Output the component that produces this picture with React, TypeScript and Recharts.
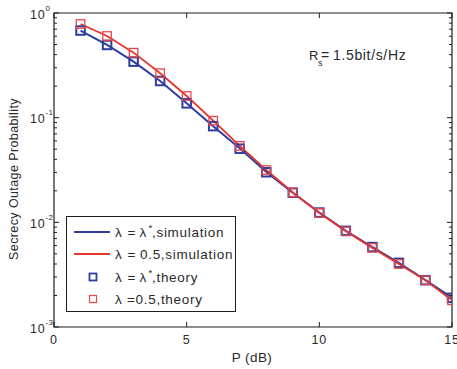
import React from 'react';
import { ComposedChart, Line, XAxis, YAxis, ReferenceArea, Legend, Label } from 'recharts';

const P_DB = [1, 2, 3, 4, 5, 6, 7, 8, 9, 10, 11, 12, 13, 14, 15];
const STAR_SIM = [0.68, 0.495, 0.343, 0.224, 0.137, 0.083, 0.051, 0.0302, 0.0192, 0.0124, 0.0083, 0.0058, 0.0041, 0.0028, 0.0019];
const HALF_SIM = [0.785, 0.603, 0.418, 0.266, 0.161, 0.0936, 0.0537, 0.0316, 0.0193, 0.0123, 0.0082, 0.0057, 0.004, 0.0028, 0.0018];
const STAR_THEORY = [0.68, 0.495, 0.343, 0.224, 0.137, 0.083, 0.0505, 0.0301, 0.0192, 0.0124, 0.0083, 0.0058, 0.0041, 0.0028, 0.0019];
const HALF_THEORY = [0.785, 0.603, 0.418, 0.266, 0.161, 0.0936, 0.0537, 0.0316, 0.0193, 0.0123, 0.0082, 0.0057, 0.004, 0.0028, 0.0018];

const X_TICKS = [0, 5, 10, 15];
const Y_MAJOR = [0.001, 0.01, 0.1, 1];
const Y_MAJOR_EXP = ['-3', '-2', '-1', '0'];
const Y_MINOR_MULT = [2, 3, 4, 5, 6, 7, 8, 9];
const Y_TICKS: number[] = [];
Y_MAJOR.forEach((m, i) => {
  Y_TICKS.push(m);
  if (i < Y_MAJOR.length - 1) Y_MINOR_MULT.forEach((k) => Y_TICKS.push(m * k));
});

const data = P_DB.map((p, i) => ({
  p,
  starSim: STAR_SIM[i],
  halfSim: HALF_SIM[i],
  starTh: STAR_THEORY[i],
  halfTh: HALF_THEORY[i],
}));

const BLUE = '#2d3e9e';
const RED = '#e8352c';
const RED_SQ = '#e8474a';
const AXIS = '#1e1e1e';
const TXT = '#2a2a2a';
const FONT = '"Liberation Sans", Arial, Helvetica, sans-serif';

const W = 457;
const H = 369;
const M_TOP = 13;
const M_RIGHT = 5;
const PLOT_RIGHT = W - M_RIGHT;
const PLOT_TOP = M_TOP;

const XTick = (props: any) => {
  const { x, y, payload } = props;
  return (
    <g>
      <line x1={x} x2={x} y1={y} y2={y - 5} stroke={AXIS} strokeWidth={1} />
      <line x1={x} x2={x} y1={PLOT_TOP} y2={PLOT_TOP + 5} stroke={AXIS} strokeWidth={1} />
      <text x={x} y={y + 16.5} textAnchor="middle" fontSize={12.5} letterSpacing={0.8} fill={TXT} fontFamily={FONT}>
        {String(payload.value)}
      </text>
    </g>
  );
};

const YTick = (props: any) => {
  const { x, y, payload } = props;
  const v = payload.value as number;
  const mi = Y_MAJOR.findIndex((m) => Math.abs(m - v) / m < 1e-6);
  const major = mi >= 0;
  const len = major ? 5 : 3;
  return (
    <g>
      <line x1={x} x2={x + len} y1={y} y2={y} stroke={AXIS} strokeWidth={1} />
      <line x1={PLOT_RIGHT} x2={PLOT_RIGHT - len} y1={y} y2={y} stroke={AXIS} strokeWidth={1} />
      {major && (
        <text x={x - 24} y={y + 5.5} fontSize={12.5} letterSpacing={0.8} fill={TXT} fontFamily={FONT}>
          10
          <tspan dy={-8} fontSize={8} letterSpacing={0.3}>{Y_MAJOR_EXP[mi]}</tspan>
        </text>
      )}
    </g>
  );
};

const makeSquare = (color: string, sw: number, size: number) => (props: any) => {
  const { cx, cy, index } = props;
  if (cx == null || cy == null || isNaN(cx) || isNaN(cy)) return <g key={`e${index}`} />;
  return (
    <rect key={`s${index}`} x={cx - size / 2} y={cy - size / 2} width={size} height={size}
      fill="none" stroke={color} strokeWidth={sw} />
  );
};

const XLabel = (props: any) => {
  const vb = props.viewBox || {};
  return (
    <text x={vb.x + vb.width / 2 - 1} y={vb.y + 35} textAnchor="middle" fontSize={13.5} letterSpacing={0.4}
      fill={TXT} fontFamily={FONT}>
      P (dB)
    </text>
  );
};

const YLabel = (props: any) => {
  const vb = props.viewBox || {};
  const cx = 18;
  const cy = vb.y + vb.height / 2 + 9;
  return (
    <text x={cx} y={cy} transform={`rotate(-90 ${cx} ${cy})`} textAnchor="middle" fontSize={12.5}
      letterSpacing={0.4} fill={TXT} fontFamily={FONT}>
      Secrecy Outage Probability
    </text>
  );
};

type LegendRow = { kind: 'line' | 'square'; color: string; parts: { t: string; x: number; sup?: boolean }[] };
const LEGEND_ROWS: LegendRow[] = [
  { kind: 'line', color: BLUE, parts: [{ t: 'λ', x: 49 }, { t: '=', x: 61.5 }, { t: 'λ', x: 73.5 }, { t: '*', x: 82.5, sup: true }, { t: ',simulation', x: 86 }] },
  { kind: 'line', color: RED, parts: [{ t: 'λ', x: 49 }, { t: '=', x: 61.5 }, { t: '0.5,simulation', x: 74 }] },
  { kind: 'square', color: BLUE, parts: [{ t: 'λ', x: 49 }, { t: '=', x: 61.5 }, { t: 'λ', x: 73.5 }, { t: '*', x: 82.5, sup: true }, { t: ',theory', x: 86 }] },
  { kind: 'square', color: RED_SQ, parts: [{ t: 'λ', x: 49 }, { t: '=0.5,theory', x: 61 }] },
];
const LEG_ROW_Y = [16, 38, 61, 83];

const LegendBox = () => (
  <svg width={171} height={96} style={{ display: 'block' }}>
    <rect x={0.5} y={0.5} width={169} height={95} fill="#fff" stroke={AXIS} strokeWidth={1} />
    {LEGEND_ROWS.map((r, i) => {
      const cy = LEG_ROW_Y[i];
      return (
        <g key={i}>
          {r.kind === 'line' ? (
            <line x1={8} x2={44} y1={cy} y2={cy} stroke={r.color} strokeWidth={1.8} />
          ) : (
            <rect x={23.5} y={cy - 3.5} width={7} height={7} fill="none" stroke={r.color}
              strokeWidth={r.color === BLUE ? 1.8 : 1.2} />
          )}
          {r.parts.map((p, j) => (
            <text key={j} x={p.x} y={p.sup ? cy - 1.5 : cy + 5} fontSize={p.sup ? 9.5 : 13.5}
              letterSpacing={0.7} fill={TXT} fontFamily={FONT}>
              {p.t}
            </text>
          ))}
        </g>
      );
    })}
  </svg>
);

export default function App() {
  return (
    <div style={{ position: 'absolute', left: 0, top: 0, width: W, height: H, background: '#fff' }}>
      <ComposedChart width={W} height={H} data={data} margin={{ top: M_TOP, right: M_RIGHT, bottom: 0, left: 0 }}>
        <XAxis dataKey="p" type="number" domain={[0, 15]} ticks={X_TICKS} interval={0} tickSize={0} tickMargin={0}
          axisLine={false} tickLine={false} tick={<XTick />} height={42} allowDataOverflow>
          <Label content={<XLabel />} />
        </XAxis>
        <YAxis type="number" scale="log" domain={[0.001, 1]} ticks={Y_TICKS} interval={0} tickSize={0} tickMargin={0}
          axisLine={false} tickLine={false} tick={<YTick />} width={54} allowDataOverflow>
          <Label content={<YLabel />} />
        </YAxis>
        <ReferenceArea x1={0} x2={15} y1={0.001} y2={1} fill="none" stroke={AXIS} strokeWidth={1.2} ifOverflow="visible" />
        <Line dataKey="starSim" stroke={BLUE} strokeWidth={2} dot={false} activeDot={false} isAnimationActive={false} />
        <Line dataKey="halfSim" stroke={RED} strokeWidth={1.8} dot={false} activeDot={false} isAnimationActive={false} />
        <Line dataKey="starTh" stroke="none" dot={makeSquare(BLUE, 2, 8.5)} activeDot={false} isAnimationActive={false} />
        <Line dataKey="halfTh" stroke="none" dot={makeSquare(RED_SQ, 1.3, 8.5)} activeDot={false} isAnimationActive={false} />
        <Legend layout="vertical" align="center" verticalAlign="middle"
          wrapperStyle={{ position: 'absolute', left: 66, top: 216, width: 171, height: 96, margin: 0, padding: 0 }}
          content={() => <LegendBox />} />
      </ComposedChart>
      <svg width={W} height={H} style={{ position: 'absolute', left: 0, top: 0, pointerEvents: 'none' }}>
        <text x={309} y={60} fontSize={13} fill={TXT} fontFamily={FONT}>R</text>
        <text x={318} y={66} fontSize={9} fill={TXT} fontFamily={FONT}>s</text>
        <text x={321} y={60} fontSize={14} fill={TXT} fontFamily={FONT}>=</text>
        <text x={333} y={60} fontSize={14} letterSpacing={0.65} fill={TXT} fontFamily={FONT}>1.5bit/s/Hz</text>
      </svg>
    </div>
  );
}
